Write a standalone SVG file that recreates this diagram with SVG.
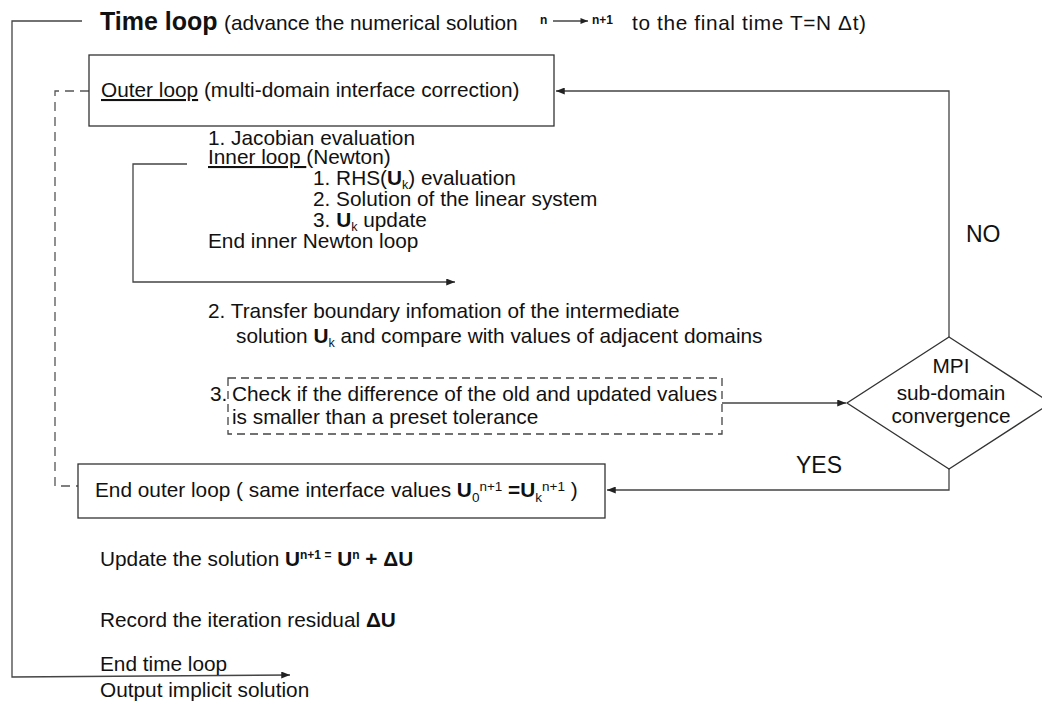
<svg xmlns="http://www.w3.org/2000/svg" width="1042" height="703" viewBox="0 0 1042 703">
<defs>
<marker id="ah" viewBox="0 0 10 8" refX="10" refY="4" markerWidth="9" markerHeight="7" markerUnits="userSpaceOnUse" orient="auto"><path d="M0,0 L10,4 L0,8 z" fill="#222"/></marker>
<marker id="ahs" viewBox="0 0 10 8" refX="10" refY="4" markerWidth="8" markerHeight="6" markerUnits="userSpaceOnUse" orient="auto"><path d="M0,0 L10,4 L0,8 z" fill="#222"/></marker>
</defs>
<style>
text{font-family:"Liberation Sans",Arial,Helvetica,sans-serif;font-size:20.8px;fill:#111}
.b{font-weight:bold}
.s{font-size:12.5px}
.s2{font-size:13.5px}
.t{font-size:12px;font-weight:bold}
.lbl{font-size:23px}
.u{text-decoration:underline}
.line{fill:none;stroke:#444;stroke-width:1.3}
.dash{fill:none;stroke:#555;stroke-width:1.3;stroke-dasharray:9 6}
.box{fill:#fff;stroke:#333;stroke-width:1.3}
.dbox{fill:none;stroke:#444;stroke-width:1.3;stroke-dasharray:8 5}
</style>
<rect width="1042" height="703" fill="#fff"/>

<g id="connectors">
<path class="line" d="M82,21 H12 V677 L290,675" marker-end="url(#ah)"/>
<path class="dash" d="M89,91 H55 V486 H78"/>
<path class="line" d="M949,337 V91 H556" marker-end="url(#ah)"/>
<path class="line" d="M949,469 V490 H607" marker-end="url(#ah)"/>
<path class="line" d="M722,403 H846" marker-end="url(#ah)"/>
<path class="line" d="M187,164 H133 V282 H455" marker-end="url(#ah)"/>
<path class="line" d="M553,21 H588" marker-end="url(#ahs)"/>
</g>

<g id="time-loop">
<text x="100" y="30"><tspan class="b" style="font-size:25px">Time loop</tspan></text>
<text x="224" y="30">(advance the numerical solution</text>
<text x="540" y="24" class="t">n</text>
<text x="592" y="24" class="t">n+1</text>
<text x="632" y="30" textLength="234" lengthAdjust="spacing">to the final time T=N Δt)</text>
</g>

<g id="outer-loop">
<rect class="box" x="89" y="55" width="465" height="71"/>
<text x="101" y="97"><tspan class="u">Outer loop</tspan> (multi-domain interface correction)</text>
</g>

<g id="inner-loop">
<text x="208" y="145">1. Jacobian evaluation</text>
<text x="208" y="164"><tspan class="u">Inner loop </tspan>(Newton)</text>
<text x="313" y="185">1.  RHS(<tspan class="b">U</tspan><tspan class="s" dy="4">k</tspan><tspan dy="-4">) evaluation</tspan></text>
<text x="313" y="206">2.  Solution of the linear system</text>
<text x="313" y="227">3. <tspan class="b">U</tspan><tspan class="s" dy="4">k</tspan><tspan dy="-4"> update</tspan></text>
<text x="208" y="248">End inner Newton loop</text>
</g>

<g id="transfer">
<text x="208" y="318">2. Transfer boundary infomation of the intermediate</text>
<text x="236" y="343">solution <tspan class="b">U</tspan><tspan class="s" dy="4">k</tspan><tspan dy="-4"> and compare with values of adjacent domains</tspan></text>
</g>

<g id="check">
<text x="210" y="401">3.</text>
<rect class="dbox" x="228" y="378" width="494" height="56"/>
<text x="232" y="401">Check if the difference of the old and updated values</text>
<text x="232" y="424">is smaller than a preset tolerance</text>
</g>

<g id="mpi">
<polygon class="box" points="949,337 1051,403 949,469 847,403"/>
<text x="951" y="373" text-anchor="middle">MPI</text>
<text x="951" y="400" text-anchor="middle">sub-domain</text>
<text x="951" y="423" text-anchor="middle">convergence</text>
</g>

<g id="labels">
<text x="966" y="242" class="lbl">NO</text>
<text x="796" y="473" class="lbl">YES</text>
</g>

<g id="end-outer">
<rect class="box" x="78" y="464" width="527" height="54"/>
<text x="95" y="497">End outer loop ( same interface values <tspan class="b">U</tspan><tspan class="s2" dy="5">0</tspan><tspan class="s2" dy="-11">n+1</tspan><tspan class="b" dy="6"> =U</tspan><tspan class="s2" dy="5">k</tspan><tspan class="s2" dy="-11">n+1</tspan><tspan dy="6"> )</tspan></text>
</g>

<g id="update">
<text x="100" y="566">Update the solution <tspan class="b">U</tspan><tspan class="t" dy="-7">n+1 =</tspan><tspan class="b" dy="7"> U</tspan><tspan class="t" dy="-7">n</tspan><tspan class="b" dy="7">  + ΔU</tspan></text>
</g>

<g id="record">
<text x="100" y="627">Record the iteration residual <tspan class="b">ΔU</tspan></text>
</g>

<g id="end-time">
<text x="100" y="671">End time loop</text>
<text x="100" y="697">Output implicit solution</text>
</g>
</svg>
